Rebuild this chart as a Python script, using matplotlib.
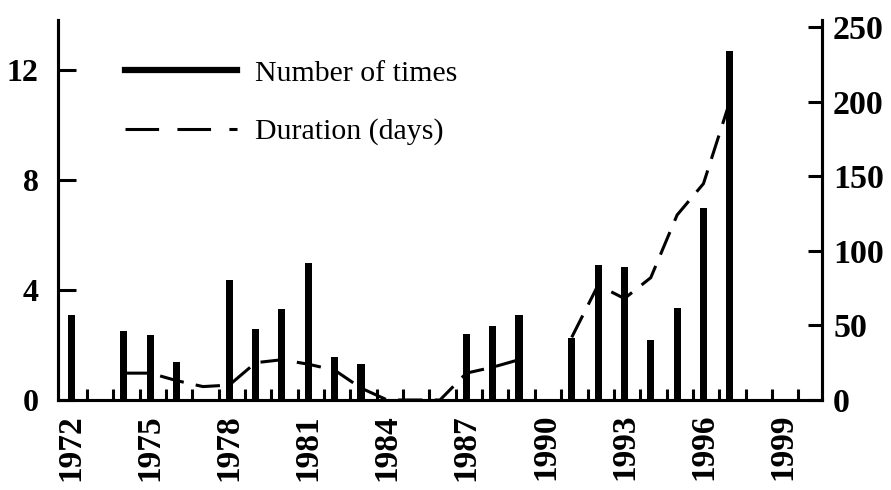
import numpy as np
import matplotlib
matplotlib.use("Agg")
import matplotlib.pyplot as plt
from matplotlib.lines import Line2D

plt.rcParams["font.family"] = ["Liberation Serif", "DejaVu Serif"]

# ---- data ----
count_years = [1972, 1974, 1975, 1976, 1978, 1979, 1980, 1981, 1982, 1983,
               1987, 1988, 1989, 1991, 1992, 1993, 1994, 1995, 1996, 1997]
counts = [3.1, 2.5, 2.35, 1.4, 4.35, 2.6, 3.3, 5.0, 1.55, 1.3,
          2.4, 2.7, 3.1, 2.25, 4.9, 4.85, 2.2, 3.35, 7.0, 12.7]

dur_years = [1974, 1975, 1976, 1977, 1978, 1979, 1980, 1981, 1982, 1983,
             1984, 1985, 1986, 1987, 1988, 1989, 1990, 1991, 1992, 1993,
             1994, 1995, 1996, 1997]
durations = [18, 18, 13, 9, 10, 25, 27, 24, 20, 8,
             0, 0, 0, 18, 22, 27, np.nan, 42, 77, 68,
             82, 124, 145, 200]

all_years = list(range(1972, 2000))
label_years = list(range(1972, 2000, 3))
left_ticks = [0, 4, 8, 12]
right_ticks = [0, 50, 100, 150, 200, 250]

# ---- figure ----
fig = plt.figure(figsize=(8.91, 4.90), dpi=100)
ax1 = fig.add_axes([58 / 891, 1 - 400 / 490, (822 - 58) / 891, (400 - 20) / 490])
ax2 = ax1.twinx()

ax1.bar(count_years, counts, width=0.27, color="black", zorder=3)
ax2.plot(dur_years, durations, color="black", lw=2.2,
         dashes=(8, 4), zorder=4)

ax1.set_xlim(1971.5, 2000.5)
ax1.set_ylim(0, 13.82)
ax2.set_ylim(0, 254.7)

# spines
for ax in (ax1, ax2):
    ax.spines["top"].set_visible(False)
    for s in ("left", "right", "bottom"):
        ax.spines[s].set_linewidth(2.2)

# left axis ticks (inward)
ax1.set_yticks(left_ticks)
ax1.tick_params(axis="y", direction="in", length=13, width=2.2, pad=14,
                labelsize=23)
for lbl in ax1.get_yticklabels():
    lbl.set_fontweight("bold")

# right axis ticks (inward)
ax2.set_yticks(right_ticks)
ax2.tick_params(axis="y", direction="in", length=10, width=2.2, pad=8,
                labelsize=24.5)
for lbl in ax2.get_yticklabels():
    lbl.set_fontweight("bold")

# x axis: labels every 3 years, inward small ticks for each year
ax1.set_xticks(label_years)
ax1.set_xticklabels([str(y) for y in label_years], rotation=90)
ax1.tick_params(axis="x", which="major", length=0, pad=10, labelsize=24)
for lbl in ax1.get_xticklabels():
    lbl.set_fontweight("bold")
ax1.set_xticks([y + 0.6 for y in all_years], minor=True)
ax1.tick_params(axis="x", which="minor", direction="in", length=8, width=2.2)

# legend
handles = [Line2D([], [], color="black", lw=4.5),
           Line2D([], [], color="black", lw=2.2, dashes=(11, 6))]
ax1.legend(handles, ["Number of times", "Duration (days)"],
           loc="upper left", bbox_to_anchor=((125 - 58) / (822 - 58), 1 - (60 - 20) / 380),
           frameon=False, fontsize=21.5, handlelength=3.75, handletextpad=0.62,
           labelspacing=1.05, borderpad=0, borderaxespad=0)

fig.savefig("out.png", dpi=100)
